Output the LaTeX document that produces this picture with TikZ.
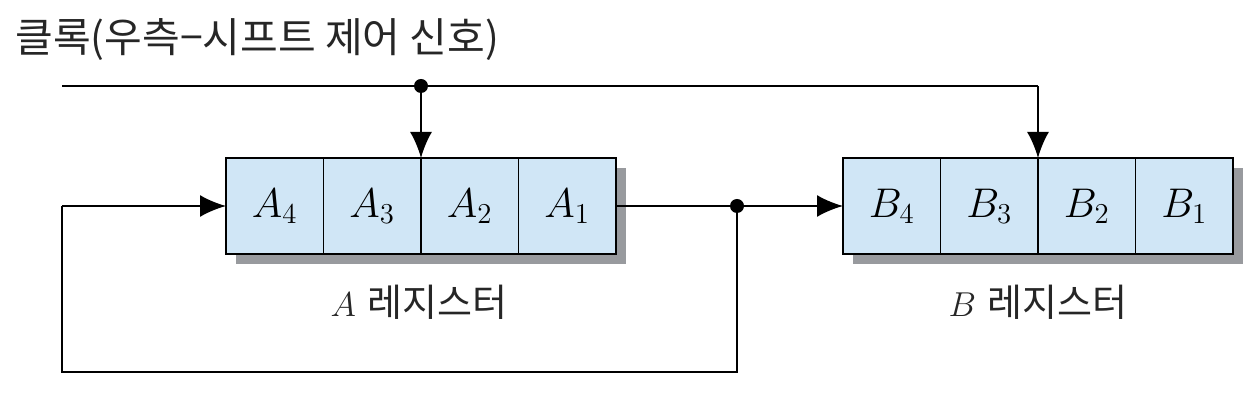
\documentclass[tikz,border=0pt]{standalone}
\usepackage{fontspec}
\newfontfamily\kr{Noto Sans CJK KR}
\usetikzlibrary{arrows.meta,positioning,backgrounds}
\definecolor{regblue}{RGB}{208,230,246}
\definecolor{shadowgray}{RGB}{152,154,158}

\begin{document}
\begin{tikzpicture}[
  x=0.5pt, y=-0.5pt,
  node distance=0pt,
  cell/.style={draw, fill=regblue, line width=0.9pt, minimum width=48.75pt, minimum height=48pt, inner sep=0pt, outer sep=0pt, font=\fontsize{20}{20}\selectfont},
  arrow/.style={-{Latex[length=13pt,width=11pt]}, line width=1pt},
  wire/.style={line width=1pt},
  dot/.style={circle, fill, inner sep=0pt, minimum size=7pt},
  regtext/.style={font=\fontsize{19}{19}\selectfont, text=black!85}
]
\useasboundingbox (0,0) rectangle (1260,416);

% A register
\node[cell] (a4) at (274.75,206) {$A_4$};
\node[cell, right=of a4] (a3) {$A_3$};
\node[cell, right=of a3] (a2) {$A_2$};
\node[cell, right=of a2] (a1) {$A_1$};
% B register
\node[cell] (b4) at (891.75,206) {$B_4$};
\node[cell, right=of b4] (b3) {$B_3$};
\node[cell, right=of b3] (b2) {$B_2$};
\node[cell, right=of b2] (b1) {$B_1$};

\begin{scope}[on background layer]
\fill[shadowgray] ([shift={(10,10)}]a4.north west) rectangle ([shift={(10,10)}]a1.south east);
\fill[shadowgray] ([shift={(10,10)}]b4.north west) rectangle ([shift={(10,10)}]b1.south east);
\end{scope}

\node[regtext] (aname) at (419,302) {$A$ {\kr 레지스터}};
\node[regtext] (bname) at (1038,302) {$B$ {\kr 레지스터}};

% clock
\node[regtext, font=\fontsize{20.5}{20.5}\selectfont, anchor=west, inner sep=0pt] (clklabel) at (15,40) {\kr 클록(우측−시프트 제어 신호)};
\coordinate (clk) at (62,86);
\node[dot] (ca) at (a3.east |- clk) {};
\coordinate (cb) at (b3.east |- clk);
\draw[wire] (clk) -- (ca) -- (cb);
\draw[arrow] (ca) -- (a3.north east);
\draw[arrow] (cb) -- (b3.north east);

% shift path
\coordinate (in) at (62,206);
\coordinate (loop) at (62,372);
\node[dot] (fb) at (737,206) {};
\draw[arrow] (in) -- (a4);
\draw[wire] (a1) -- (fb);
\draw[arrow] (fb) -- (b4);
\draw[wire] (fb) |- (loop) -- (in);
\end{tikzpicture}
\end{document}
